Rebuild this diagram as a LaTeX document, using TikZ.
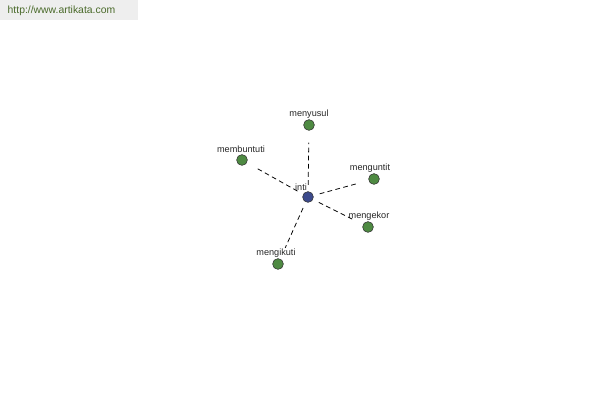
\documentclass[tikz,border=0pt]{standalone}
\usepackage{fontspec}
\setmainfont{Liberation Sans}
\definecolor{leaf}{HTML}{4E8A42}
\definecolor{core}{HTML}{3C4A8C}
\definecolor{urlbg}{HTML}{EEEEEE}
\definecolor{urltext}{HTML}{4A6A2A}
\tikzset{word/.style={circle,draw=black!80,fill=leaf,minimum size=2.7mm,inner sep=0pt},
hub/.style={word,fill=core},
lab/.style={font=\fontsize{6.5}{7}\selectfont,inner sep=1pt,text=black!85},
link/.style={dash pattern=on 3.4pt off 2.4pt,line width=0.55pt,shorten <=1.6mm,shorten >=3mm}}

\begin{document}
\begin{tikzpicture}
\useasboundingbox (0,0) rectangle (15,-10);
\fill[urlbg] (0,0) rectangle (3.45,-0.5);
\node[lab,text=urltext,font=\fontsize{7.4}{8}\selectfont,anchor=west] (url) at (0.15,-0.28) {http://www.artikata.com};
\node[hub] (c) at (7.7,-4.925) {};
\node[word] (n1) at (7.725,-3.125) {};
\node[word] (n2) at (6.05,-4.0) {};
\node[word] (n3) at (9.35,-4.475) {};
\node[word] (n4) at (9.2,-5.675) {};
\node[word] (n5) at (6.95,-6.6) {};
\node[lab] (lc) at (7.525,-4.675) {inti};
\node[lab] (l1) at (7.725,-2.85) {menyusul};
\node[lab] (l2) at (6.025,-3.725) {membuntuti};
\node[lab] (l3) at (9.25,-4.2) {menguntit};
\node[lab] (l4) at (9.225,-5.4) {mengekor};
\node[lab] (l5) at (6.9,-6.325) {mengikuti};
\foreach \n in {n1,n2,n3,n4,n5}
  \draw[link] (c) -- (\n);
\end{tikzpicture}
\end{document}
